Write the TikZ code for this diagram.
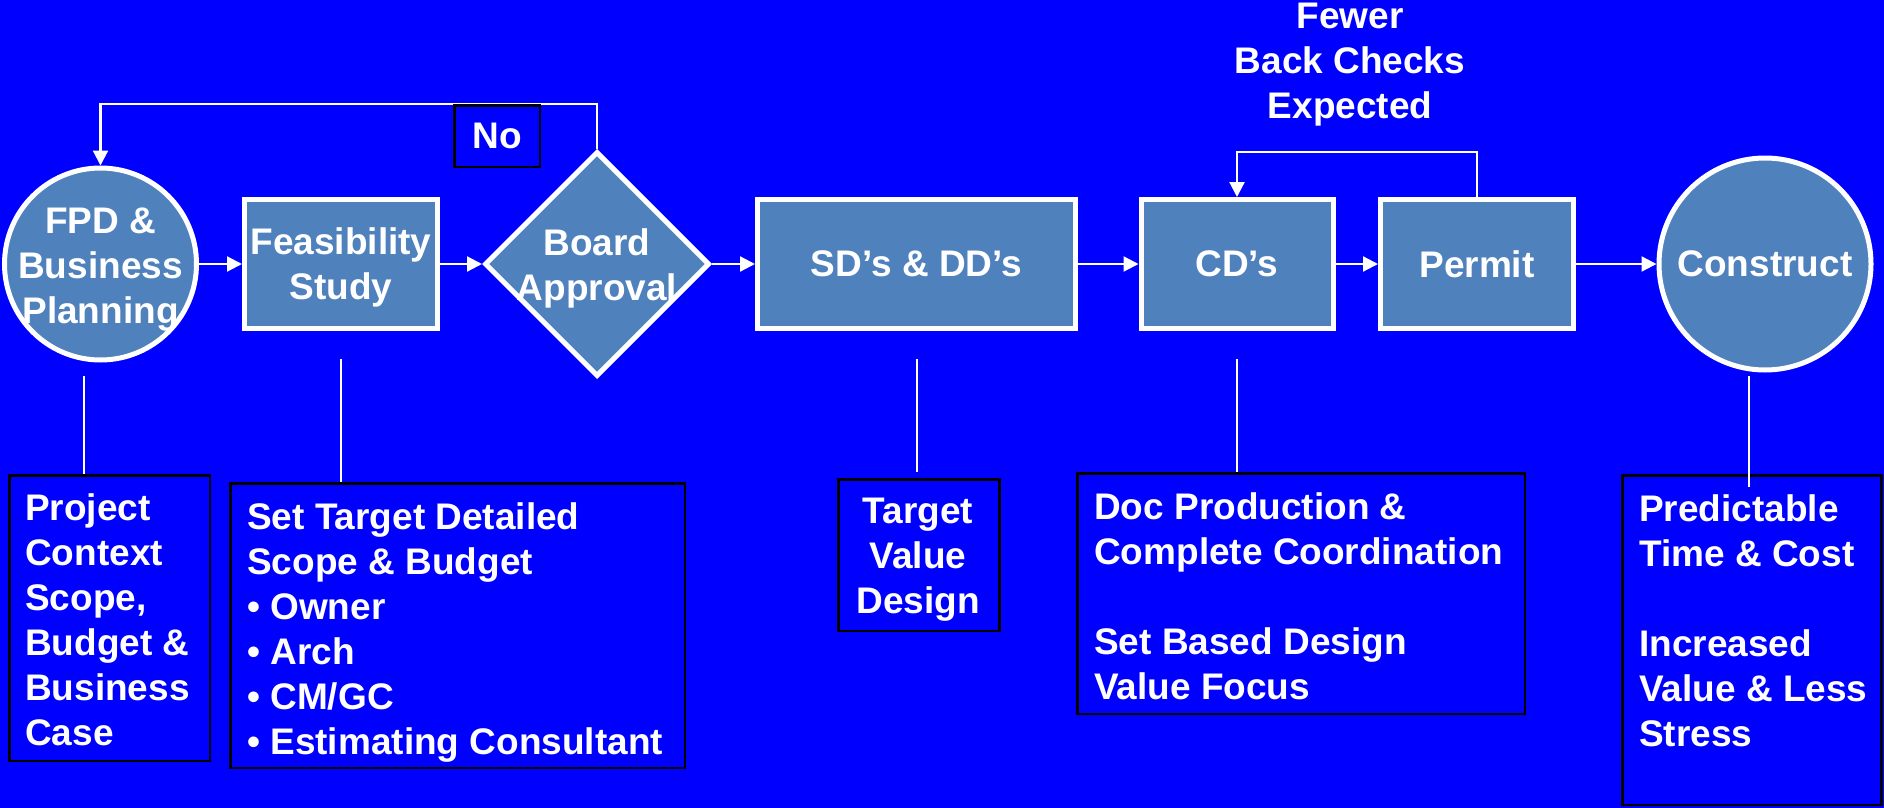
\documentclass[tikz,border=0pt]{standalone}
\usepackage{fontspec}
\setmainfont{Liberation Sans}
\usetikzlibrary{shapes.geometric,arrows.meta}
\definecolor{bgblue}{HTML}{0000FF}
\definecolor{stagefill}{HTML}{4F81BD}
\begin{document}
\begin{tikzpicture}[x=1pt,y=-1pt,
  every node/.style={font=\bfseries\fontsize{37}{45}\selectfont, text=white, inner sep=0pt},
  stage/.style={draw=white, line width=5pt, fill=stagefill},
  stagebox/.style={stage, rectangle, minimum height=129pt, align=center, text depth=0pt},
  stagecircle/.style={stage, circle},
  decision/.style={stage, diamond, minimum width=225pt, minimum height=225pt},
  caption/.style={align=center, text depth=0pt},
  note/.style={draw=black, line width=2.5pt, fill=bgblue, rectangle, anchor=north west},
  notetext/.style={align=left, anchor=north west},
  flow/.style={draw=white, line width=2.2pt, -{Triangle[length=15pt,width=15pt]}},
  stem/.style={draw=white, line width=2pt},
]
% background
\useasboundingbox (0,0) rectangle (1884,808);
\fill[bgblue] (0,0) rectangle (1884,808);

% main process stages
\node[stagecircle, minimum size=192pt] (fpd) at (100.5,264) {};
\node[caption] (fpd-t) at (100.5,266) {FPD \&\\Business\\Planning};
\node[stagebox, minimum width=193pt] (feas) at (341,264) {Feasibility\\Study};
\node[decision] (dia) at (597,264) {};
\node[caption] (dia-t) at (597,265) {Board\\Approval};
\node[stagebox, minimum width=318pt] (sd) at (916.5,264) {SD’s \& DD’s};
\node[stagebox, minimum width=192pt] (cd) at (1237,264) {CD’s};
\node[stagebox, minimum width=193pt] (permit) at (1477,264) {Permit};
\node[stagecircle, minimum size=212pt] (cons) at (1765,264) {Construct};

% forward flow
\draw[flow] (fpd) -- (feas);
\draw[flow] (feas) -- (dia);
\draw[flow] (dia) -- (sd);
\draw[flow] (sd) -- (cd);
\draw[flow] (cd) -- (permit);
\draw[flow] (permit) -- (cons);

% rejection loop back to planning
\coordinate (noloop) at (350,104);
\draw[flow] (dia.north) |- (noloop) -| (fpd.north);
\node[draw=black, line width=2.5pt, fill=bgblue, minimum width=85.5pt, minimum height=61.5pt] (no) at (497,136) {No};

% permit back-check loop
\coordinate (cdloop) at (1357,152);
\draw[flow] (permit.north) |- (cdloop) -| (cd.north);
\node[caption, anchor=north] (fewer) at (1350,3) {Fewer\\Back Checks\\Expected};

% notes under the stages
\node[note, minimum width=200.5pt, minimum height=285.5pt] (n1) at (8,474) {};
\node[notetext] (n1-t) at (25,493) {Project\\Context\\Scope,\\Budget \&\\Business\\Case};

\node[note, minimum width=454.5pt, minimum height=284.5pt] (n2) at (229,482) {};
\node[notetext] (n2-t) at (247,502) {Set Target Detailed\\Scope \& Budget\\• Owner\\• Arch\\• CM/GC\\• Estimating Consultant};

\node[note, minimum width=161pt, minimum height=151.5pt] (tv) at (837,478) {};
\node[caption, anchor=north] (tv-t) at (918,498) {Target\\Value\\Design};

\node[note, minimum width=447.5pt, minimum height=240.5pt] (cdn) at (1076,472) {};
\node[notetext] (cdn-t) at (1094,492) {Doc Production \&\\Complete Coordination\\[45pt]Set Based Design\\Value Focus};

\node[note, minimum width=259pt, minimum height=329.5pt] (cn) at (1621,474) {};
\node[notetext] (cn-t) at (1639,494) {Predictable\\Time \& Cost\\[45pt]Increased\\Value \& Less\\Stress};

% stems linking stages to their notes
\coordinate (d1) at (84,376);
\coordinate (d2) at (341,359);
\coordinate (d3) at (917,359);
\coordinate (d4) at (1237,359);
\coordinate (d5) at (1749,376);
\draw[stem] (d1) -- (d1 |- n1.north);
\draw[stem] (d2) -- (d2 |- n2.north);
\draw[stem, shorten >=6pt] (d3) -- (d3 |- tv.north);
\draw[stem] (d4) -- (d4 |- cdn.north);
\draw[stem, shorten >=-13pt] (d5) -- (d5 |- cn.north);
\end{tikzpicture}
\end{document}
